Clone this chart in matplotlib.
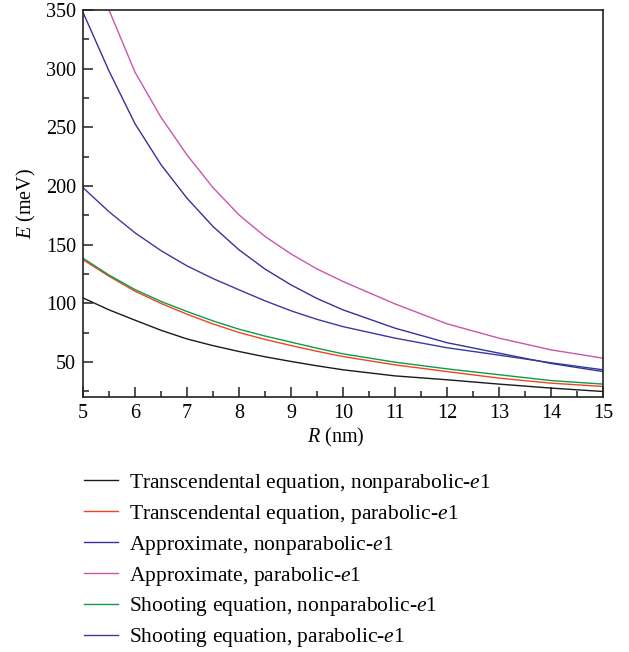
import matplotlib
matplotlib.use("Agg")
import matplotlib.pyplot as plt
from matplotlib.ticker import MultipleLocator

plt.rcParams['font.family'] = ['Liberation Serif', 'DejaVu Serif']
plt.rcParams['mathtext.fontset'] = 'custom'
plt.rcParams['mathtext.it'] = 'Liberation Serif:italic'
plt.rcParams['mathtext.rm'] = 'Liberation Serif'

# R values (nm)
R = [5, 5.5, 6, 6.5, 7, 7.5, 8, 8.5, 9, 9.5, 10, 11, 12, 13, 14, 15]
R_mag = [5.5, 6, 6.5, 7, 7.5, 8, 8.5, 9, 9.5, 10, 11, 12, 13, 14, 15]

# Energies (meV)
trans_nonpar = [104.5, 94.3, 85.5, 76.9, 69.5, 63.8, 58.8, 54.3, 50.3, 46.6, 43.2, 38.0, 34.7, 31.0, 27.6, 24.7]
trans_par = [137.0, 123.0, 110.2, 99.8, 90.6, 82.3, 75.0, 69.1, 63.9, 59.0, 54.5, 47.4, 41.7, 36.1, 31.8, 29.0]
approx_nonpar = [348.0, 298.0, 253.0, 218.1, 189.5, 165.4, 145.5, 129.1, 115.6, 104.0, 94.3, 78.7, 66.3, 57.4, 48.6, 41.7]
approx_par = [350.0, 297.0, 258.5, 226.4, 198.5, 175.3, 156.9, 142.0, 129.2, 118.5, 99.4, 82.4, 70.2, 60.2, 53.1]
shoot_nonpar = [138.4, 124.0, 111.6, 101.5, 92.9, 84.9, 77.8, 72.0, 66.8, 61.6, 56.8, 49.7, 44.0, 39.0, 34.0, 31.0]
shoot_par = [198.5, 178.0, 160.0, 144.8, 131.8, 121.0, 111.4, 102.0, 93.5, 86.2, 80.0, 70.2, 62.0, 55.7, 49.2, 43.2]

labels = [
    r'Transcendental equation, nonparabolic-$\it{e}$1',
    r'Transcendental equation, parabolic-$\it{e}$1',
    r'Approximate, nonparabolic-$\it{e}$1',
    r'Approximate, parabolic-$\it{e}$1',
    r'Shooting equation, nonparabolic-$\it{e}$1',
    r'Shooting equation, parabolic-$\it{e}$1',
]

c_black = '#1a1a1a'
c_red = '#ee4422'
c_blue = '#33339a'
c_mag = '#cc55aa'
c_green = '#11994a'
c_blue2 = '#3a3a9e'

fig = plt.figure(figsize=(6.29, 6.52), dpi=100)
ax = fig.add_axes([83/629, 1-397/652, (603-83)/629, (397-10)/652])

lw = 1.0
h1, = ax.plot(R, trans_nonpar, color=c_black, lw=lw)
h2, = ax.plot(R, trans_par, color=c_red, lw=lw)
h3, = ax.plot(R, approx_nonpar, color=c_blue, lw=lw)
h4, = ax.plot(R_mag, approx_par, color=c_mag, lw=lw)
h5, = ax.plot(R, shoot_nonpar, color=c_green, lw=lw)
h6, = ax.plot(R, shoot_par, color=c_blue2, lw=lw)

ax.set_xlim(5, 15)
ax.set_ylim(20, 350)
ax.xaxis.set_major_locator(MultipleLocator(1))
ax.xaxis.set_minor_locator(MultipleLocator(0.5))
ax.yaxis.set_major_locator(MultipleLocator(50))
ax.yaxis.set_minor_locator(MultipleLocator(25))
ax.set_yticks([50, 100, 150, 200, 250, 300, 350])
ax.tick_params(which='both', direction='in', top=False, right=False, width=1.1, color='#222222')
ax.tick_params(which='major', length=7, labelsize=14.5, pad=5)
ax.tick_params(which='minor', length=4)
for s in ax.spines.values():
    s.set_linewidth(1.2)
    s.set_color('#222222')

ax.set_xlabel(r'$\it{R}$ (nm)', fontsize=14.5, labelpad=2)
ax.xaxis.set_label_coords((336-83)/520, -0.075)
ax.set_ylabel(r'$\it{E}$ (meV)', fontsize=14.5, labelpad=6)

fig.legend([h1, h2, h3, h4, h5, h6], labels, loc='upper left',
           bbox_to_anchor=(75/629, 1-463/652), frameon=False,
           fontsize=15.5, handlelength=1.58, handletextpad=0.55,
           labelspacing=0.37, borderaxespad=0)

fig.savefig('out.png', dpi=100)
